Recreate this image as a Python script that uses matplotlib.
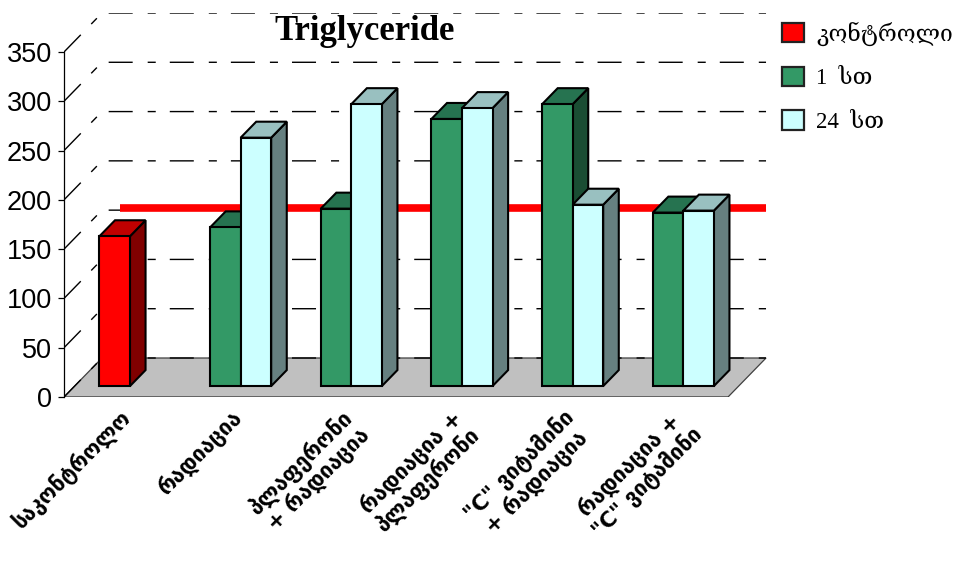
import matplotlib
matplotlib.use("Agg")
import matplotlib.pyplot as plt
from matplotlib.patches import Polygon, Patch

# ---- data -------------------------------------------------------------
categories = [
    "საკონტროლო",
    "რადიაცია",
    "პლაფერონი\n+ რადიაცია",
    "რადიაცია +\nპლაფერონი",
    "\"C\" ვიტამინი\n+ რადიაცია",
    "რადიაცია +\n\"C\" ვიტამინი",
]
series_names = ["კონტროლი", "1  სთ", "24  სთ"]
control = [152, None, None, None, None, None]
hour1 = [None, 161, 180, 271, 286, 176]
hour24 = [None, 252, 286, 282, 184, 178]
y_ticks = [0, 50, 100, 150, 200, 250, 300, 350]

# face colours: front, top, side
RED = ("#FF0000", "#C00000", "#800000")
GREEN = ("#339966", "#267350", "#1A4D33")
CYAN = ("#CCFFFF", "#99C0C0", "#668080")

# ---- geometry of the oblique 3-D look ----------------------------------
W, H = 964, 561
PX_CAT = 110.67          # pixels per category on the front plane
PX_VAL = 345 / 350.0     # pixels per value unit
DEPTH_PX = (38, 39)      # shift of the back wall (right, up) in pixels
DX = DEPTH_PX[0] / PX_CAT
DY = DEPTH_PX[1] / PX_VAL
BAR_W = 0.276
BAR_OFF = 0.224
D_FRONT, D_BACK = 0.28, 0.69


def proj(x, v, d):
    return x + d * DX, v + d * DY


fig = plt.figure(figsize=(W / 100, H / 100), dpi=100)
ax_left, ax_bottom, ax_w, ax_h = 64, 397, 704, 384
ax = fig.add_axes([ax_left / W, 1 - ax_bottom / H, ax_w / W, ax_h / H])
ax.set_xlim(0, ax_w / PX_CAT)
ax.set_ylim(0, ax_h / PX_VAL)
ax.patch.set_visible(False)
for s in ("top", "right", "bottom"):
    ax.spines[s].set_visible(False)
ax.spines["left"].set_bounds(0, 350)
ax.spines["left"].set_linewidth(0.9)

n = len(categories)

# floor
floor = Polygon([proj(0, 0, 0), proj(n, 0, 0), proj(n, 0, 1), proj(0, 0, 1)],
                closed=True, fc="#C0C0C0", ec="#404040", lw=0.9, zorder=1)
ax.add_patch(floor)
ax.plot([0, n], [0, 0], color="#202020", lw=0.9, zorder=1.5)

# gridlines: side wall oblique segment + back wall
for v in y_ticks:
    pts = [proj(0, v, 0), proj(0, v, 1), proj(n, v, 1)]
    ax.plot([p[0] for p in pts], [p[1] for p in pts], color="black", lw=1.0,
            linestyle=(0, (17.3, 10.8, 5.8, 10.1)), zorder=2)

# control level on the back wall
cval = control[0]
p0, p1 = proj(0.16, cval, 1), proj(n, cval, 1)
ax.plot([p0[0], p1[0]], [p0[1], p1[1]], color="#FF0000", lw=5.5,
        solid_capstyle="butt", zorder=3)


def bar(x0, v, cols, z):
    x1 = x0 + BAR_W
    front = [proj(x0, 0, D_FRONT), proj(x1, 0, D_FRONT),
             proj(x1, v, D_FRONT), proj(x0, v, D_FRONT)]
    top = [proj(x0, v, D_FRONT), proj(x1, v, D_FRONT),
           proj(x1, v, D_BACK), proj(x0, v, D_BACK)]
    side = [proj(x1, 0, D_FRONT), proj(x1, 0, D_BACK),
            proj(x1, v, D_BACK), proj(x1, v, D_FRONT)]
    for pts, c in ((side, cols[2]), (top, cols[1]), (front, cols[0])):
        ax.add_patch(Polygon(pts, closed=True, fc=c, ec="black", lw=1.5,
                             joinstyle="miter", zorder=z))


z = 4
for i in range(n):
    slots = []
    if control[i] is not None:
        slots.append((0, control[i], RED))
    if hour1[i] is not None:
        slots.append((0, hour1[i], GREEN))
    if hour24[i] is not None:
        slots.append((1, hour24[i], CYAN))
    for slot, v, cols in slots:
        bar(i + BAR_OFF + slot * BAR_W, v, cols, z)
        z += 0.01

# axes ticks and labels
ax.set_yticks(y_ticks)
ax.set_yticklabels([str(t) for t in y_ticks], fontsize=19.5,
                   family="Liberation Sans")
ax.tick_params(axis="y", direction="out", length=4.5, width=0.9, pad=4)
ax.set_xticks([i + 0.5 for i in range(n)])
ax.set_xticklabels(categories, rotation=45, ha="right", va="top",
                   rotation_mode="anchor", fontsize=15.5, fontweight="bold",
                   family=["DejaVu Sans"], multialignment="center",
                   linespacing=1.05)
ax.tick_params(axis="x", length=0, pad=6)

# title
fig.text(365 / W, 1 - 31 / H, "Triglyceride", ha="center", va="center",
         fontsize=25, fontweight="bold", family="Liberation Serif")

# legend
handles = [Patch(fc=c[0], ec="#222222", lw=1.6) for c in (RED, GREEN, CYAN)]
fig.legend(handles, series_names, loc="upper left",
           bbox_to_anchor=(771 / W, 1 - 10 / H), bbox_transform=fig.transFigure,
           frameon=False, handlelength=0.92, handleheight=0.92,
           handletextpad=0.55, labelspacing=0.92, borderpad=0,
           prop={"family": ["Liberation Serif", "DejaVu Serif", "DejaVu Sans"],
                 "size": 16.5})

fig.savefig("out.png", dpi=100)
